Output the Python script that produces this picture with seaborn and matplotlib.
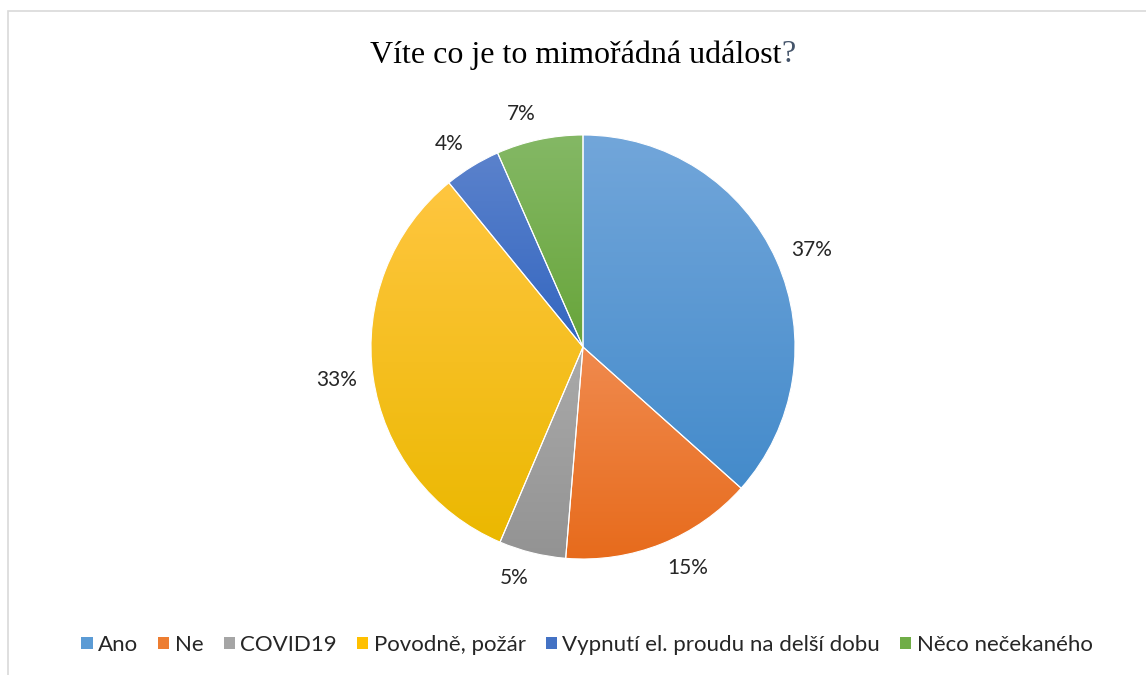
import matplotlib
matplotlib.use("Agg")
import matplotlib.pyplot as plt
import numpy as np
import seaborn as sns
from matplotlib.colors import LinearSegmentedColormap
from matplotlib.patches import Patch, Rectangle

# data (share of answers, %)
categories = ["Ano", "Ne", "COVID19", "Povodně, požár",
              "Vypnutí el. proudu na delší dobu", "Něco nečekaného"]
shares = [36.6, 14.7, 5.1, 32.7, 4.3, 6.6]
pct_labels = ["37%", "15%", "5%", "33%", "4%", "7%"]

# Office-like colours: light top -> dark bottom of each slice
base_colors = ["#5B9BD5", "#ED7D31", "#A5A5A5", "#FFC000", "#4472C4", "#70AD47"]
top_colors = ["#72A6DA", "#F08A4E", "#AAAAAA", "#FFC640", "#5B82CC", "#84B865"]
bottom_colors = ["#448BCB", "#E76B1C", "#939393", "#EBB800", "#3366C0", "#68A53A"]

sns.set_theme(style="white")
plt.rcParams['font.family'] = ['Lato', 'DejaVu Sans']

W, H = 1146, 675
fig = plt.figure(figsize=(W / 100, H / 100), dpi=100)

# light grey chart frame
fig.patches.append(Rectangle((8 / W, -0.05), 1.2, 1 - 11 / H + 0.05,
                             transform=fig.transFigure, fill=False,
                             edgecolor="#D9D9D9", lw=1.2))

cx, cy, r = 583, 347, 212
ax = fig.add_axes([(cx - r) / W, (H - cy - r) / H, 2 * r / W, 2 * r / H])

wedges, _ = ax.pie(shares, colors=base_colors, startangle=90, counterclock=False,
                   wedgeprops=dict(edgecolor="white", linewidth=0.8))

grad = np.linspace(0, 1, 256).reshape(-1, 1)
for w, c_top, c_bot in zip(wedges, top_colors, bottom_colors):
    bb = w.get_path().get_extents()
    cmap = LinearSegmentedColormap.from_list("g", [c_top, c_bot])
    im = ax.imshow(grad, cmap=cmap, aspect="auto", origin="upper",
                   extent=[bb.x0, bb.x1, bb.y0, bb.y1], zorder=2)
    im.set_clip_path(w)
    w.set_facecolor("none")
    w.set_zorder(3)

# percentage labels just outside the rim ("outside end" style)
angles = 90 - 360 * (np.cumsum(shares) - np.array(shares) / 2) / sum(shares)
for a, lab in zip(angles, pct_labels):
    t = np.deg2rad(a)
    ax.annotate(lab, xy=(1.075 * np.cos(t), 1.075 * np.sin(t)),
                xytext=(0, 7 * np.sin(t)), textcoords="offset points",
                ha="left" if np.cos(t) > 0 else "right", va="center",
                fontsize=15, color="#262626", annotation_clip=False)

ax.set_xlim(-1, 1)
ax.set_ylim(-1, 1)
ax.set_aspect("equal")
ax.axis("off")

# title, question mark in blue-grey
fig.text(781 / W, 1 - 55 / H, "Víte co je to mimořádná událost", ha="right",
         va="center", fontsize=23, family=["Liberation Serif"], color="black")
fig.text(781 / W, 1 - 55 / H, "?", ha="left", va="center", fontsize=23,
         family=["Liberation Serif"], color="#44546A")

handles = [Patch(facecolor=c, edgecolor="none") for c in base_colors]
fig.legend(handles, categories, loc="center", bbox_to_anchor=(587 / W, 1 - 645 / H),
           ncol=6, frameon=False, fontsize=16, handlelength=0.5, handleheight=0.5,
           handletextpad=0.25, columnspacing=0.9, labelcolor="#262626")

fig.savefig("out.png", dpi=100)
